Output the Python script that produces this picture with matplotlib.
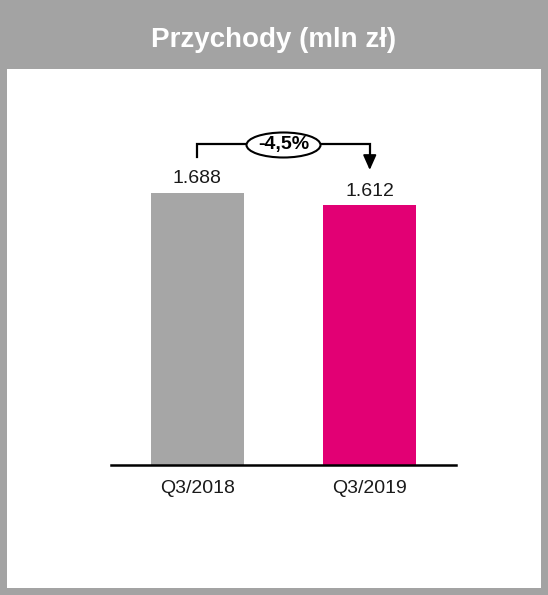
import matplotlib
matplotlib.use("Agg")
import matplotlib.pyplot as plt
from matplotlib.patches import Rectangle, Ellipse

# data
periods = ["Q3/2018", "Q3/2019"]
revenue = [1688, 1612]
value_labels = ["1.688", "1.612"]
change_label = "-4,5%"
title = "Przychody (mln zł)"

bar_colors = ["#a6a6a6", "#e20074"]
frame_color = "#a3a3a3"

W, H = 548, 595
plt.rcParams["font.family"] = ["Liberation Sans", "DejaVu Sans"]

fig = plt.figure(figsize=(W / 100, H / 100), dpi=100)
fig.patch.set_facecolor(frame_color)

# white inner panel (pixel coords from top-left)
px, py, pw, ph = 7, 69, 534, 519
fig.patches.append(Rectangle((px / W, 1 - (py + ph) / H), pw / W, ph / H,
                             transform=fig.transFigure, facecolor="white",
                             edgecolor="none", zorder=-5))

fig.text(274 / W, 1 - 40 / H, title, color="white", fontsize=20, fontweight="bold",
         ha="center", va="center")

# bar axes: x 111..456 px, baseline at 465 px, top at 100 px
ax_left, ax_right, ax_top, ax_bottom = 111, 456, 100, 465
ax = fig.add_axes([ax_left / W, 1 - ax_bottom / H,
                   (ax_right - ax_left) / W, (ax_bottom - ax_top) / H])
ax.set_facecolor("none")
ax.set_zorder(2)
px_per_unit = 272 / revenue[0]
ymax = (ax_bottom - ax_top) / px_per_unit
ax.set_xlim(-0.5, 1.5)
ax.set_ylim(0, ymax)

x = list(range(len(periods)))
bars = ax.bar(x, revenue, width=0.54, color=bar_colors, zorder=2)

for xi, v, lab in zip(x, revenue, value_labels):
    ax.annotate(lab, (xi, v), xytext=(0, 4), textcoords="offset points",
                ha="center", va="bottom", fontsize=14, color="#1a1a1a")

for s in ["top", "left", "right"]:
    ax.spines[s].set_visible(False)
ax.spines["bottom"].set_linewidth(1.8)
ax.spines["bottom"].set_color("black")
ax.set_yticks([])
ax.set_xticks(x)
ax.set_xticklabels(periods, fontsize=14, color="#1a1a1a")
ax.tick_params(axis="x", length=0, pad=11)

# change bracket
def py2y(p):
    return (ax_bottom - p) / px_per_unit

y_bar = py2y(144)
ax.plot([0, 0, 1, 1], [py2y(157), y_bar, y_bar, py2y(158)], color="black",
        lw=1.6, solid_joinstyle="miter", clip_on=False, zorder=3)
ax.annotate("", xy=(1, py2y(170)), xytext=(1, py2y(155)),
            arrowprops=dict(arrowstyle="-|>,head_length=0.9,head_width=0.4",
                            color="black", lw=1.4, shrinkA=0, shrinkB=0),
            annotation_clip=False, zorder=3)
ax.add_patch(Ellipse((0.5, py2y(145)), 74 / 172.5, 25 / px_per_unit,
                     facecolor="white", edgecolor="black", lw=1.5,
                     clip_on=False, zorder=4))
ax.text(0.5, py2y(145), change_label, ha="center", va="center", fontsize=14,
        fontweight="bold", color="black", zorder=5)

fig.savefig("out.png", dpi=100, facecolor=fig.get_facecolor())
